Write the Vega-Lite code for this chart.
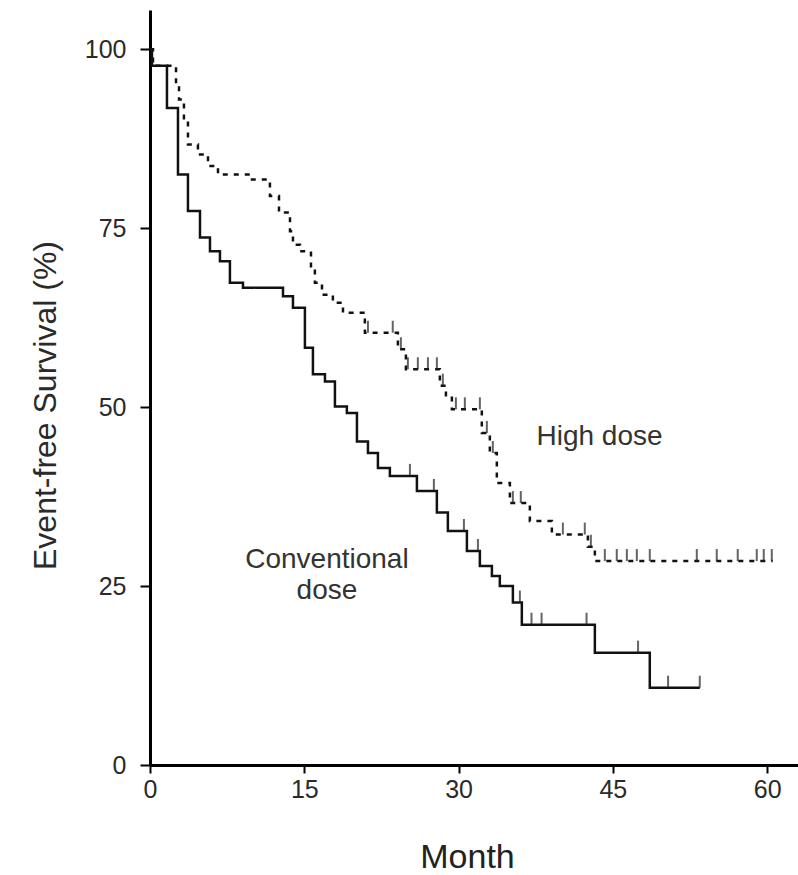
{
  "$schema": "https://vega.github.io/schema/vega-lite/v6.json",
  "width": 648,
  "height": 755,
  "autosize": {"type": "none"},
  "padding": {"left": 150, "top": 10, "right": 0, "bottom": 110},
  "background": "white",
  "config": {"view": {"stroke": null}, "font": "Liberation Sans"},
  "datasets": {
    "curves": [
      {"group": "High dose", "month": 0, "surv": 100},
      {"group": "High dose", "month": 0.29, "surv": 97.7},
      {"group": "High dose", "month": 2.53, "surv": 95.0},
      {"group": "High dose", "month": 2.82, "surv": 93.0},
      {"group": "High dose", "month": 3.3, "surv": 90.2},
      {"group": "High dose", "month": 3.69, "surv": 86.7},
      {"group": "High dose", "month": 4.66, "surv": 85.3},
      {"group": "High dose", "month": 5.64, "surv": 83.7},
      {"group": "High dose", "month": 6.61, "surv": 82.5},
      {"group": "High dose", "month": 9.72, "surv": 81.8},
      {"group": "High dose", "month": 11.66, "surv": 79.5},
      {"group": "High dose", "month": 12.54, "surv": 77.2},
      {"group": "High dose", "month": 13.61, "surv": 74.6},
      {"group": "High dose", "month": 13.9, "surv": 72.7},
      {"group": "High dose", "month": 14.58, "surv": 71.8},
      {"group": "High dose", "month": 15.65, "surv": 69.5},
      {"group": "High dose", "month": 16.03, "surv": 67.4},
      {"group": "High dose", "month": 16.72, "surv": 65.7},
      {"group": "High dose", "month": 17.78, "surv": 64.6},
      {"group": "High dose", "month": 18.76, "surv": 63.2},
      {"group": "High dose", "month": 20.89, "surv": 60.4},
      {"group": "High dose", "month": 24.1, "surv": 58.1},
      {"group": "High dose", "month": 24.88, "surv": 55.3},
      {"group": "High dose", "month": 28.18, "surv": 53.0},
      {"group": "High dose", "month": 28.77, "surv": 51.5},
      {"group": "High dose", "month": 29.35, "surv": 49.7},
      {"group": "High dose", "month": 32.26, "surv": 46.4},
      {"group": "High dose", "month": 33.04, "surv": 43.6},
      {"group": "High dose", "month": 33.72, "surv": 39.4},
      {"group": "High dose", "month": 34.99, "surv": 36.6},
      {"group": "High dose", "month": 36.93, "surv": 34.1},
      {"group": "High dose", "month": 39.07, "surv": 32.2},
      {"group": "High dose", "month": 42.57, "surv": 30.5},
      {"group": "High dose", "month": 43.25, "surv": 28.5},
      {"group": "High dose", "month": 60.54, "surv": 28.5},
      {"group": "Conventional dose", "month": 0, "surv": 100},
      {"group": "Conventional dose", "month": 0.19, "surv": 97.7},
      {"group": "Conventional dose", "month": 1.65, "surv": 91.8},
      {"group": "Conventional dose", "month": 2.72, "surv": 82.5},
      {"group": "Conventional dose", "month": 3.69, "surv": 77.4},
      {"group": "Conventional dose", "month": 4.86, "surv": 73.7},
      {"group": "Conventional dose", "month": 5.83, "surv": 71.8},
      {"group": "Conventional dose", "month": 6.8, "surv": 70.4},
      {"group": "Conventional dose", "month": 7.77, "surv": 67.4},
      {"group": "Conventional dose", "month": 9.04, "surv": 66.7},
      {"group": "Conventional dose", "month": 12.93, "surv": 65.5},
      {"group": "Conventional dose", "month": 13.9, "surv": 63.9},
      {"group": "Conventional dose", "month": 15.06, "surv": 58.3},
      {"group": "Conventional dose", "month": 15.84, "surv": 54.6},
      {"group": "Conventional dose", "month": 17.01, "surv": 53.6},
      {"group": "Conventional dose", "month": 17.98, "surv": 50.1},
      {"group": "Conventional dose", "month": 19.14, "surv": 49.2},
      {"group": "Conventional dose", "month": 20.12, "surv": 45.2},
      {"group": "Conventional dose", "month": 21.19, "surv": 43.6},
      {"group": "Conventional dose", "month": 22.16, "surv": 41.5},
      {"group": "Conventional dose", "month": 23.32, "surv": 40.4},
      {"group": "Conventional dose", "month": 25.95, "surv": 38.3},
      {"group": "Conventional dose", "month": 27.89, "surv": 35.3},
      {"group": "Conventional dose", "month": 28.96, "surv": 32.7},
      {"group": "Conventional dose", "month": 30.81, "surv": 29.9},
      {"group": "Conventional dose", "month": 32.07, "surv": 27.8},
      {"group": "Conventional dose", "month": 33.24, "surv": 26.4},
      {"group": "Conventional dose", "month": 34.01, "surv": 25.0},
      {"group": "Conventional dose", "month": 35.28, "surv": 22.7},
      {"group": "Conventional dose", "month": 36.15, "surv": 19.6},
      {"group": "Conventional dose", "month": 43.25, "surv": 15.7},
      {"group": "Conventional dose", "month": 48.59, "surv": 10.8},
      {"group": "Conventional dose", "month": 53.45, "surv": 10.8}
    ],
    "censored": [
      {"group": "High dose", "month": 21.19, "surv": 60.4},
      {"group": "High dose", "month": 23.6, "surv": 60.4},
      {"group": "High dose", "month": 24.39, "surv": 58.1},
      {"group": "High dose", "month": 25.07, "surv": 55.3},
      {"group": "High dose", "month": 26.04, "surv": 55.3},
      {"group": "High dose", "month": 27.02, "surv": 55.3},
      {"group": "High dose", "month": 27.89, "surv": 55.3},
      {"group": "High dose", "month": 28.47, "surv": 53.0},
      {"group": "High dose", "month": 29.74, "surv": 49.7},
      {"group": "High dose", "month": 30.61, "surv": 49.7},
      {"group": "High dose", "month": 32.07, "surv": 49.7},
      {"group": "High dose", "month": 32.75, "surv": 46.4},
      {"group": "High dose", "month": 33.33, "surv": 43.6},
      {"group": "High dose", "month": 35.28, "surv": 36.6},
      {"group": "High dose", "month": 36.05, "surv": 36.6},
      {"group": "High dose", "month": 40.14, "surv": 32.2},
      {"group": "High dose", "month": 42.27, "surv": 32.2},
      {"group": "High dose", "month": 42.86, "surv": 30.5},
      {"group": "High dose", "month": 44.22, "surv": 28.5},
      {"group": "High dose", "month": 45.38, "surv": 28.5},
      {"group": "High dose", "month": 46.36, "surv": 28.5},
      {"group": "High dose", "month": 47.33, "surv": 28.5},
      {"group": "High dose", "month": 48.59, "surv": 28.5},
      {"group": "High dose", "month": 53.16, "surv": 28.5},
      {"group": "High dose", "month": 55.1, "surv": 28.5},
      {"group": "High dose", "month": 57.14, "surv": 28.5},
      {"group": "High dose", "month": 58.99, "surv": 28.5},
      {"group": "High dose", "month": 59.67, "surv": 28.5},
      {"group": "High dose", "month": 60.45, "surv": 28.5},
      {"group": "Conventional dose", "month": 25.27, "surv": 40.4},
      {"group": "Conventional dose", "month": 27.6, "surv": 38.3},
      {"group": "Conventional dose", "month": 30.52, "surv": 32.7},
      {"group": "Conventional dose", "month": 31.88, "surv": 29.9},
      {"group": "Conventional dose", "month": 35.96, "surv": 22.7},
      {"group": "Conventional dose", "month": 37.09, "surv": 19.6},
      {"group": "Conventional dose", "month": 38.07, "surv": 19.6},
      {"group": "Conventional dose", "month": 42.44, "surv": 19.6},
      {"group": "Conventional dose", "month": 47.45, "surv": 15.7},
      {"group": "Conventional dose", "month": 50.37, "surv": 10.8},
      {"group": "Conventional dose", "month": 53.45, "surv": 10.8}
    ],
    "labels": [
      {"text": "High dose", "month": 43.7, "surv": 45.9},
      {"text": "Conventional", "month": 17.2, "surv": 28.7},
      {"text": "dose", "month": 17.2, "surv": 24.3}
    ]
  },
  "encoding": {
    "x": {
      "field": "month",
      "type": "quantitative",
      "scale": {"domain": [0, 63], "nice": false, "zero": false},
      "axis": {
        "values": [0, 15, 30, 45, 60],
        "grid": false,
        "labelFlush": false,
        "domainColor": "black",
        "domainWidth": 3,
        "tickColor": "black",
        "tickWidth": 2,
        "tickSize": 8,
        "labelFontSize": 25,
        "labelColor": "#2a2a2a",
        "labelPadding": 4,
        "title": "Month",
        "titleFontSize": 34,
        "titleFontWeight": "normal",
        "titleColor": "#222",
        "titleX": 317,
        "titleY": 75,
        "titleBaseline": "top"
      }
    },
    "y": {
      "field": "surv",
      "type": "quantitative",
      "scale": {"domain": [0, 105.5], "nice": false},
      "axis": {
        "values": [0, 25, 50, 75, 100],
        "grid": false,
        "labelFlush": false,
        "domainColor": "black",
        "domainWidth": 3,
        "tickColor": "black",
        "tickWidth": 2,
        "tickSize": 10,
        "labelFontSize": 25,
        "labelColor": "#2a2a2a",
        "labelPadding": 14,
        "title": "Event-free Survival (%)",
        "titleFontSize": 32,
        "titleFontWeight": "normal",
        "titleColor": "#2a2a2a",
        "titleAngle": -90,
        "titleAlign": "center",
        "titleBaseline": "middle",
        "titleX": -105,
        "titleY": 395
      }
    }
  },
  "layer": [
    {
      "data": {"name": "curves"},
      "mark": {"type": "line", "interpolate": "step-after", "strokeWidth": 2.5, "color": "#111"},
      "encoding": {
        "detail": {"field": "group"},
        "strokeDash": {
          "field": "group",
          "scale": {"domain": ["Conventional dose", "High dose"], "range": [[1, 0], [5, 6]]},
          "legend": null
        }
      }
    },
    {
      "data": {"name": "censored"},
      "mark": {"type": "tick", "orient": "vertical", "size": 12, "thickness": 2, "yOffset": -6, "color": "#222"}
    },
    {
      "data": {"name": "labels"},
      "mark": {"type": "text", "fontSize": 28, "color": "#333", "align": "center", "baseline": "middle"},
      "encoding": {"text": {"field": "text"}}
    }
  ]
}
